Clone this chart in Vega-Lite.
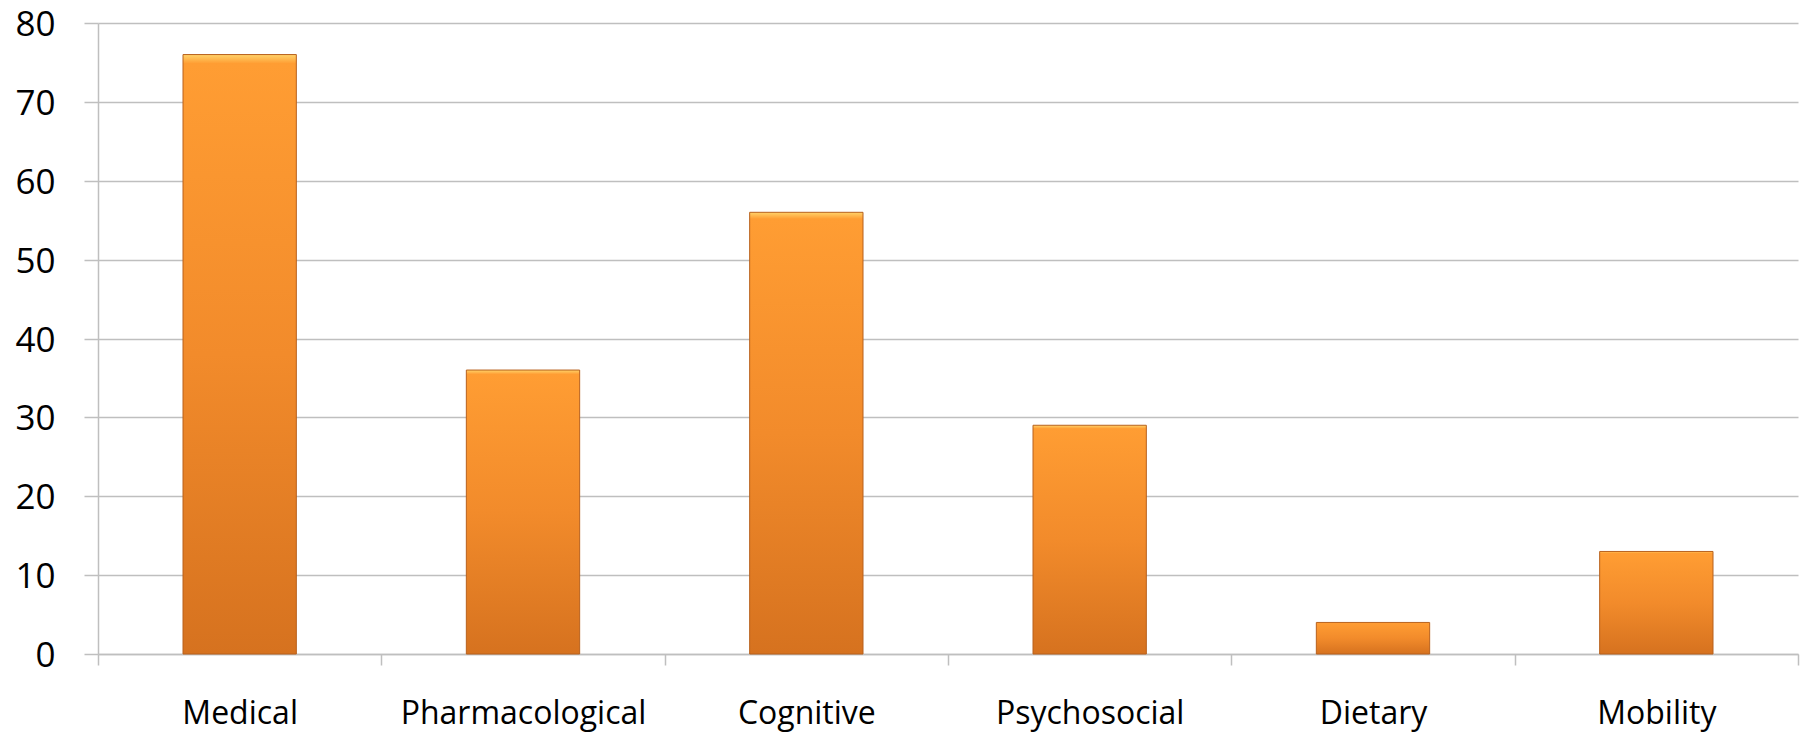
{
  "$schema": "https://vega.github.io/schema/vega-lite/v6.json",
  "width": 1700,
  "height": 631,
  "autosize": {"type": "none"},
  "padding": {"left": 98, "top": 23, "right": 8, "bottom": 78},
  "background": "white",
  "config": {"view": {"stroke": null}, "font": "Open Sans"},
  "data": {
    "values": [
      {"category": "Medical", "value": 76},
      {"category": "Pharmacological", "value": 36},
      {"category": "Cognitive", "value": 56},
      {"category": "Psychosocial", "value": 29},
      {"category": "Dietary", "value": 4},
      {"category": "Mobility", "value": 13}
    ]
  },
  "mark": {
    "type": "bar",
    "width": {"band": 0.4},
    "stroke": "#B8611C",
    "strokeWidth": 1,
    "color": {
      "gradient": "linear",
      "x1": 0, "y1": 0, "x2": 0, "y2": 1,
      "stops": [
        {"offset": 0, "color": "#FFD36A"},
        {"offset": 0.015, "color": "#FF9D33"},
        {"offset": 0.5, "color": "#F28B2B"},
        {"offset": 1, "color": "#D6721F"}
      ]
    }
  },
  "encoding": {
    "x": {
      "field": "category",
      "type": "nominal",
      "sort": null,
      "scale": {"paddingInner": 0, "paddingOuter": 0},
      "axis": {
        "title": null,
        "labelAngle": 0,
        "labelFontSize": 32,
        "labelLimit": 400,
        "labelColor": "#000000",
        "labelFont": "Open Sans",
        "labelPadding": 33,
        "tickSize": 11,
        "tickBand": "extent",
        "tickColor": "#BFBFBF",
        "tickWidth": 1.5,
        "domainColor": "#BFBFBF",
        "domainWidth": 1.5,
        "grid": false
      }
    },
    "y": {
      "field": "value",
      "type": "quantitative",
      "scale": {"domain": [0, 80], "nice": false},
      "axis": {
        "title": null,
        "values": [0, 10, 20, 30, 40, 50, 60, 70, 80],
        "labelFontSize": 35,
        "labelColor": "#000000",
        "labelFont": "Open Sans",
        "labelPadding": 29,
        "labelBaseline": "alphabetic",
        "labelOffset": 12.5,
        "tickSize": 14,
        "tickColor": "#BFBFBF",
        "tickWidth": 1.5,
        "domainColor": "#BFBFBF",
        "domainWidth": 1.5,
        "grid": true,
        "gridColor": "#BFBFBF",
        "gridWidth": 1.5
      }
    }
  }
}
